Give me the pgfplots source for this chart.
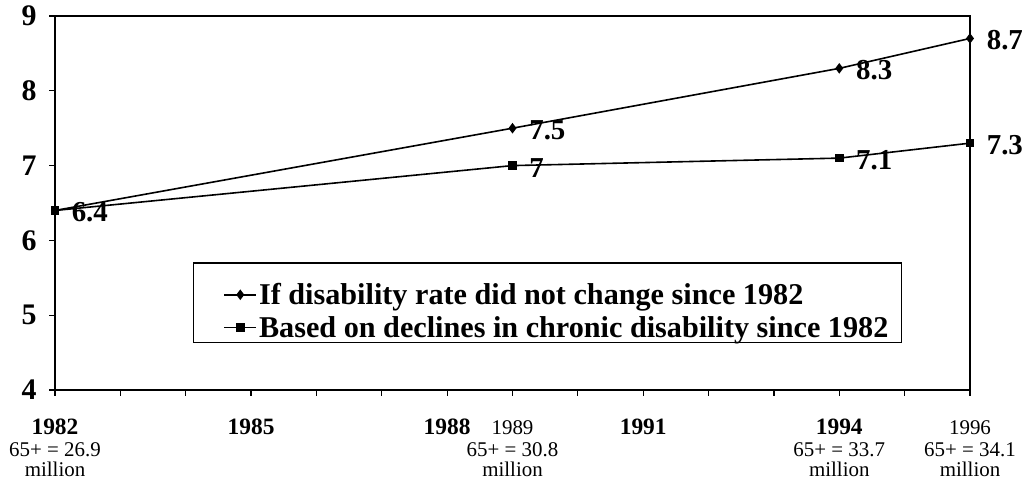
\documentclass[border=0pt]{standalone}
\usepackage{pgfplots}
\pgfplotsset{compat=1.18}
\usepackage{pgfplotstable}
\usepackage{fontspec}
\setmainfont{Liberation Serif}
\pgfplotstableread{
year value label
1982 6.4 6.4
1989 7.5 7.5
1994 8.3 8.3
1996 8.7 8.7
}\nochange
\pgfplotstableread{
year value label
1982 6.4 {}
1989 7.0 7
1994 7.1 7.1
1996 7.3 7.3
}\declines
\newcommand{\yb}[1]{{\fontsize{23.5}{21}\selectfont\bfseries #1}}
\newcommand{\yr}[1]{\rule{0pt}{15bp}#1}
\begin{document}
\begin{tikzpicture}
\begin{axis}[
  scale only axis, width=915bp, height=374bp,
  xmin=1982, xmax=1996, ymin=4, ymax=9,
  clip=false,
  axis line style={line width=1.8bp},
  tick style={line width=1.2bp, black},
  tick align=outside, tick pos=left,
  major tick length=6bp, minor tick length=6bp,
  xtick={1982,1985,1988,1989,1991,1994,1996},
  minor xtick={1983,1984,1986,1987,1990,1992,1993,1995},
  xticklabels={
    {\yb{1982}\\[0.5bp]65+ = 26.9\\[-0.5bp]million},
    \yb{1985},
    \yb{1988},
    {\yr{1989}\\[1bp]65+ = 30.8\\[-0.5bp]million},
    \yb{1991},
    {\yb{1994}\\[0.5bp]65+ = 33.7\\[-0.5bp]million},
    {\yr{1996}\\[1bp]65+ = 34.1\\[-0.5bp]million}},
  xticklabel style={align=center, anchor=north, font=\fontsize{21}{21}\selectfont, inner sep=0pt, yshift=-23bp},
  ytick={4,5,6,7,8,9},
  /pgf/number format/assume math mode=true,
  yticklabel style={font=\fontsize{30}{30}\selectfont\bfseries, xshift=-9bp},
  legend style={at={(0.1505,0.342)}, anchor=north west, draw=black, line width=1.6bp,
    font=\fontsize{30.3}{31}\selectfont\bfseries, inner xsep=11bp, inner ysep=2bp,
    row sep=6bp, cells={anchor=west}, nodes={inner sep=2bp}},
  legend image code/.code={\path (0bp,0bp); \draw[#1, mark repeat=2, mark phase=2] plot coordinates {(19bp,0bp) (35bp,0bp) (51bp,0bp)};},
  every node near coord/.style={anchor=west, xshift=15bp, yshift=-2bp, inner sep=1bp, black,
    font=\fontsize{29}{29}\selectfont\bfseries},
]
\addlegendimage{empty legend}
\addlegendentry{\rule{0pt}{5bp}}
\addplot[black, line width=1.6bp, mark=diamond*, mark size=4bp, mark options={solid},
  nodes near coords, point meta=explicit symbolic] table[x=year, y=value, meta=label] {\nochange};
\addlegendentry{If disability rate did not change since 1982}
\addplot[black, line width=1.6bp, mark=square*, mark size=3.5bp, mark options={solid},
  nodes near coords, point meta=explicit symbolic] table[x=year, y=value, meta=label] {\declines};
\addlegendentry{Based on declines in chronic disability since 1982}
\end{axis}
\pgfresetboundingbox
\path ([shift={(-55bp,-98bp)}]current axis.south west) rectangle ([shift={(59bp,16bp)}]current axis.north east);
\end{tikzpicture}
\end{document}
